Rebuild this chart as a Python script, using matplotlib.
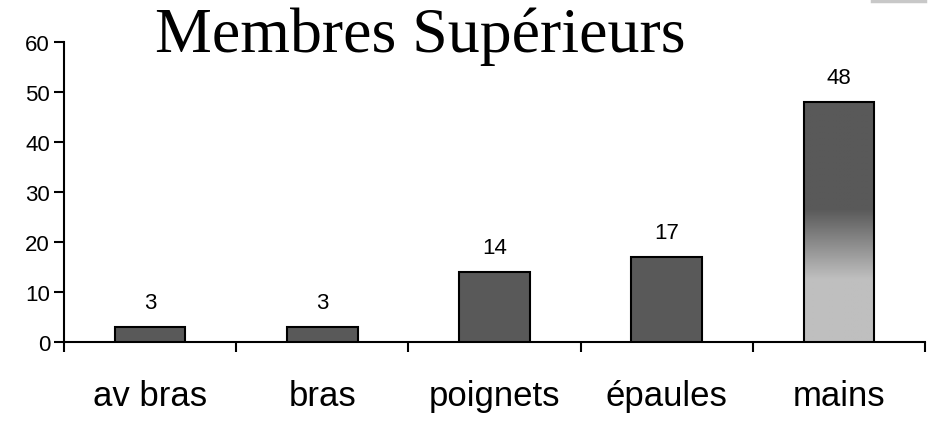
import numpy as np
import matplotlib
matplotlib.use("Agg")
from matplotlib import pyplot as plt
from matplotlib.lines import Line2D

categories = ["av bras", "bras", "poignets", "épaules", "mains"]
values = [3, 3, 14, 17, 48]
title = "Membres Supérieurs"
yticks = [0, 10, 20, 30, 40, 50, 60]

dark = "#595959"
light = "#bfbfbf"

fig = plt.figure(figsize=(9.41, 4.39), dpi=100)
ax = fig.add_axes([64 / 941, 1 - 343 / 439, (925 - 64) / 941, 300 / 439])

x = np.arange(len(categories))
bars = ax.bar(x, values, width=0.41, color=dark, edgecolor="black", linewidth=1.5, zorder=3)

# last bar: dark on top fading to light gray at the bottom
last = bars[-1]
bx, bw, bh = last.get_x(), last.get_width(), last.get_height()
levels = np.linspace(0, bh, 200)
shade = np.clip((levels - 12.6) / (26.6 - 12.6), 0, 1)
c_dark = np.array(matplotlib.colors.to_rgb(dark))
c_light = np.array(matplotlib.colors.to_rgb(light))
img = c_light[None, :] * (1 - shade[:, None]) + c_dark[None, :] * shade[:, None]
img = img[:, None, :]
im = ax.imshow(img, extent=[bx, bx + bw, 0, bh], origin="lower", aspect="auto", zorder=3.5)
im.set_clip_path(last)
last.set_facecolor("none")
last.set_zorder(4)

for xi, v in zip(x, values):
    ax.annotate(str(v), (xi, v), xytext=(0, 10), textcoords="offset points",
                ha="center", va="bottom", fontsize=16, family="Liberation Sans")

ax.set_xlim(-0.5, len(categories) - 0.5)
ax.set_ylim(0, 60)
ax.set_yticks(yticks)
ax.set_yticklabels([str(t) for t in yticks], fontsize=16, family="Liberation Sans")
ax.set_xticks(np.arange(-0.5, len(categories), 1.0))
ax.set_xticklabels([])
ax.set_xticks(x, minor=True)
ax.set_xticklabels(categories, minor=True, fontsize=25, family="Liberation Sans")
ax.tick_params(axis="x", which="major", direction="out", length=7, width=1.5, color="black")
ax.tick_params(axis="x", which="minor", length=0, pad=27)
ax.tick_params(axis="y", direction="out", length=7, width=1.5, pad=3)

for side in ["top", "right"]:
    ax.spines[side].set_visible(False)
for side in ["left", "bottom"]:
    ax.spines[side].set_linewidth(1.5)

fig.text(420 / 941, 1 - 52 / 439, title, ha="center", va="baseline",
         fontsize=46, family="Liberation Serif")

# small gray edge of a box at top right
fig.add_artist(Line2D([872 / 941, 925 / 941], [1 - 1.5 / 439, 1 - 1.5 / 439],
                      color="#c8c8c8", linewidth=2.5, transform=fig.transFigure))

fig.savefig("out.png", dpi=100)
